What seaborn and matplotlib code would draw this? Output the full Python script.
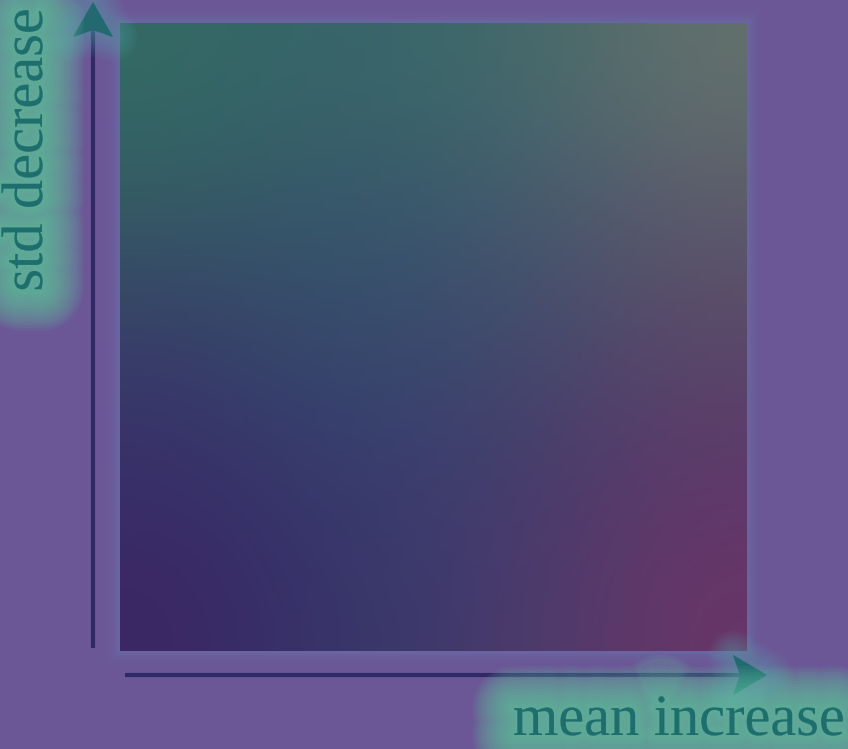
import numpy as np
import matplotlib
matplotlib.use("Agg")
import matplotlib.pyplot as plt
import matplotlib.patheffects as pe
from matplotlib.colors import to_rgb
from matplotlib.patches import Rectangle, Polygon
import seaborn as sns

# Colours (rows: top -> bottom, cols: left -> right)
grid_rows = [
    ["#336a64", "#38646a", "#3a686a", "#4a6a6c", "#62706c"],
    ["#355a64", "#36566a", "#3a586c", "#4a5a6e", "#5c5a6c"],
    ["#383e68", "#354a6c", "#3a4a6e", "#474a6c", "#5a4868"],
    ["#38306a", "#363a6c", "#3b3f6e", "#4a3c6c", "#5c3a6a"],
    ["#3b2764", "#36336a", "#3e3a6c", "#503b6c", "#693568"],
]
x_label = "mean increase"
y_label = "std decrease"

bg = "#6b5796"
glow = "#5ec8a0"
text_col = "#1f6e6e"
line_col = "#2f2a66"
head_col = "#236a70"

sns.set_style("white")
plt.rcParams["font.family"] = ["Liberation Serif", "DejaVu Serif"]

fig = plt.figure(figsize=(8.48, 7.49), dpi=100, facecolor=bg)
ax = fig.add_axes([0, 0, 1, 1])
ax.set_facecolor(bg)
ax.set_xlim(0, 848)
ax.set_ylim(749, 0)
ax.axis("off")

# glow around square
for k, a in zip(range(12, 0, -2), np.linspace(0.05, 0.16, 6)):
    ax.add_patch(Rectangle((120 - k, 23 - k), 627 + 2 * k, 628 + 2 * k,
                           facecolor="#6a78b0", edgecolor="none", alpha=a, zorder=1))

img = np.array([[to_rgb(c) for c in row] for row in grid_rows])
ax.imshow(img, extent=(120, 747, 651, 23), interpolation="bicubic", zorder=2, aspect="auto")

# arrows
ax.plot([93, 93], [648, 30], color=line_col, lw=3, solid_capstyle="butt", zorder=3)
ax.plot([125, 740], [675, 675], color=line_col, lw=3, solid_capstyle="butt", zorder=3)


def glow_fx(maxw, step, color, a):
    return [pe.Stroke(linewidth=w, foreground=color, alpha=a, joinstyle="round",
                      capstyle="round") for w in range(maxw, 0, -step)]


tip_fx = glow_fx(36, 3, "#5aa8b0", 0.05) + [pe.Normal()]
ax.add_patch(Polygon([[93, 2], [73, 37], [93, 30], [113, 37]], closed=True,
                     facecolor=head_col, edgecolor="none", zorder=4, path_effects=tip_fx))
ax.add_patch(Polygon([[767, 675], [733, 655], [740, 675], [733, 695]], closed=True,
                     facecolor=head_col, edgecolor="none", zorder=4, path_effects=tip_fx))

txt_fx = glow_fx(60, 4, glow, 0.09) + [pe.Normal()]
ax.text(845, 747, x_label, ha="right", va="bottom", fontsize=42, color=text_col,
        family=["Liberation Serif", "DejaVu Serif"], zorder=5, path_effects=txt_fx)
ax.text(2, 8, y_label, ha="left", va="top", rotation=90, fontsize=42, color=text_col,
        family=["Liberation Serif", "DejaVu Serif"], zorder=5, path_effects=txt_fx)

fig.savefig("out.png", dpi=100, facecolor=bg)
